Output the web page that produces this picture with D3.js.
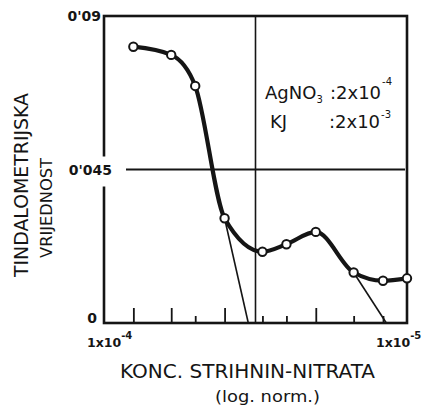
<!DOCTYPE html>
<html>
<head>
<meta charset="utf-8">
<script src="https://cdn.jsdelivr.net/npm/d3@7"></script>
<style>
  html, body { margin: 0; padding: 0; background: #fff; }
  svg { display: block; }
  text { font-family: "DejaVu Sans", sans-serif; fill: #151515; }
</style>
</head>
<body>
<svg id="chart" width="429" height="410"></svg>
<script>
// ---- data ----
const concentrations = [8e-5, 6e-5, 5e-5, 4e-5, 3e-5, 2.5e-5, 2e-5, 1.5e-5, 1.2e-5, 1e-5];
const values = [0.0810, 0.0786, 0.0695, 0.0307, 0.0209, 0.0231, 0.0267, 0.0148, 0.0124, 0.0131];
const tangent1X = [4e-5, 3.34e-5];
const tangent1Y = [0.0307, 0];
const tangent2X = [1.5e-5, 1.17e-5];
const tangent2Y = [0.0148, 0];
const majorTicks = [8e-5, 6e-5, 4e-5, 2e-5];
const minorTicks = [5e-5, 3e-5, 2.5e-5, 1.5e-5, 1.2e-5];
const xDomain = [1e-4, 1e-5];
const yTickValues = [0, 0.045, 0.09];
const yTickLabels = ["0", "0'045", "0'09"];
const xEndLabels = ["1x10", "1x10"];
const xEndExponents = ["-4", "-5"];
const xTitle = "KONC. STRIHNIN-NITRATA";
const xSubtitle = "(log. norm.)";
const yTitle1 = "TINDALOMETRIJSKA";
const yTitle2 = "VRIJEDNOST";
const legendNames = ["AgNO", "KJ"];
const legendValues = [":2x10", ":2x10"];
const legendExponents = ["-4", "-3"];

// ---- drawing ----
const ink = "#151515";
const svg = d3.select("#chart");
const x = d3.scaleLog().domain(xDomain).range([104, 407]);
const y = d3.scaleLinear().domain([0, 0.09]).range([323, 16]);

// grid lines
const xMid = Math.sqrt(xDomain[0] * xDomain[1]);
svg.append("line")
  .attr("x1", x(xMid)).attr("x2", x(xMid))
  .attr("y1", y(0.09)).attr("y2", y(0))
  .attr("stroke", ink).attr("stroke-width", 1.6);
svg.append("line")
  .attr("x1", x.range()[0]).attr("x2", x.range()[1] - 2)
  .attr("y1", y(0.045)).attr("y2", y(0.045))
  .attr("stroke", ink).attr("stroke-width", 1.8);

// frame
svg.append("rect")
  .attr("x", x.range()[0]).attr("y", y(0.09))
  .attr("width", x.range()[1] - x.range()[0]).attr("height", y(0) - y(0.09))
  .attr("fill", "none").attr("stroke", ink).attr("stroke-width", 2.6);

// mask behind 0'045 label
svg.append("rect")
  .attr("x", 64).attr("y", y(0.045) - 13).attr("width", 62).attr("height", 30)
  .attr("fill", "#fff");

// x ticks (inside, pointing up)
const majorAxis = d3.axisBottom(x).tickValues(majorTicks).tickSize(-15).tickFormat("");
const minorAxis = d3.axisBottom(x).tickValues(minorTicks).tickSize(-7).tickFormat("");
[majorAxis, minorAxis].forEach(ax => {
  const g = svg.append("g").attr("transform", `translate(0,${y(0)})`).call(ax);
  g.select(".domain").remove();
  g.selectAll("line").attr("stroke", ink).attr("stroke-width", 1.8);
});

// y tick labels
const yLabelRight = [97, 112, 101];
const yLabelDy = [0, 5, 5];
svg.selectAll("text.ylab").data(yTickValues).enter().append("text")
  .attr("class", "ylab")
  .attr("x", (d, i) => yLabelRight[i])
  .attr("y", (d, i) => y(d) + yLabelDy[i])
  .attr("text-anchor", "end")
  .attr("font-size", 14).attr("font-weight", "bold")
  .text((d, i) => yTickLabels[i]);

// x end labels
const xLabelStart = [87, 376];
xDomain.forEach((d, i) => {
  const t = svg.append("text")
    .attr("x", xLabelStart[i]).attr("y", 347)
    .attr("font-size", 12.5).attr("font-weight", "bold");
  t.append("tspan").text(xEndLabels[i]);
  t.append("tspan").attr("font-size", 10).attr("dy", -8).text(xEndExponents[i]);
});

// tangent lines
const lineGen = d3.line().x(d => x(d[0])).y(d => y(d[1]));
[[tangent1X, tangent1Y], [tangent2X, tangent2Y]].forEach(([xs, ys]) => {
  svg.append("path")
    .attr("d", lineGen(xs.map((v, i) => [v, ys[i]])))
    .attr("fill", "none").attr("stroke", ink).attr("stroke-width", 1.6);
});

// main curve
const pts = concentrations.map((c, i) => [c, values[i]]);
svg.append("path")
  .attr("d", d3.line().x(d => x(d[0])).y(d => y(d[1])).curve(d3.curveMonotoneX)(pts))
  .attr("fill", "none").attr("stroke", ink).attr("stroke-width", 4.2)
  .attr("stroke-linejoin", "round").attr("stroke-linecap", "round");

svg.selectAll("circle.pt").data(pts).enter().append("circle")
  .attr("class", "pt")
  .attr("cx", d => x(d[0])).attr("cy", d => y(d[1]))
  .attr("r", 4.2).attr("fill", "#fff").attr("stroke", ink).attr("stroke-width", 2);

// legend
const leg1 = svg.append("text").attr("x", 265).attr("y", 99).attr("font-size", 18);
leg1.append("tspan").text(legendNames[0]);
leg1.append("tspan").attr("font-size", 10).attr("dy", 4).text("3");
leg1.append("tspan").attr("x", 330).attr("dy", -4).text(legendValues[0]);
leg1.append("tspan").attr("font-size", 10).attr("dx", 1).attr("dy", -14).text(legendExponents[0]);

const leg2 = svg.append("text").attr("x", 270).attr("y", 128).attr("font-size", 18);
leg2.append("tspan").text(legendNames[1]);
leg2.append("tspan").attr("x", 329).text(legendValues[1]);
leg2.append("tspan").attr("font-size", 10).attr("dx", 1).attr("dy", -10).text(legendExponents[1]);

// axis titles
svg.append("text")
  .attr("x", 120).attr("y", 378)
  .attr("font-size", 19).attr("textLength", 255).attr("lengthAdjust", "spacingAndGlyphs")
  .text(xTitle);
svg.append("text")
  .attr("x", 215).attr("y", 402)
  .attr("font-size", 16).attr("textLength", 105).attr("lengthAdjust", "spacingAndGlyphs")
  .text(xSubtitle);
svg.append("text")
  .attr("transform", "translate(28,185) rotate(-90)")
  .attr("text-anchor", "middle")
  .attr("font-size", 20).attr("textLength", 184).attr("lengthAdjust", "spacingAndGlyphs")
  .text(yTitle1);
svg.append("text")
  .attr("transform", "translate(52,208) rotate(-90)")
  .attr("text-anchor", "middle")
  .attr("font-size", 16).attr("textLength", 100).attr("lengthAdjust", "spacingAndGlyphs")
  .text(yTitle2);
</script>
</body>
</html>
